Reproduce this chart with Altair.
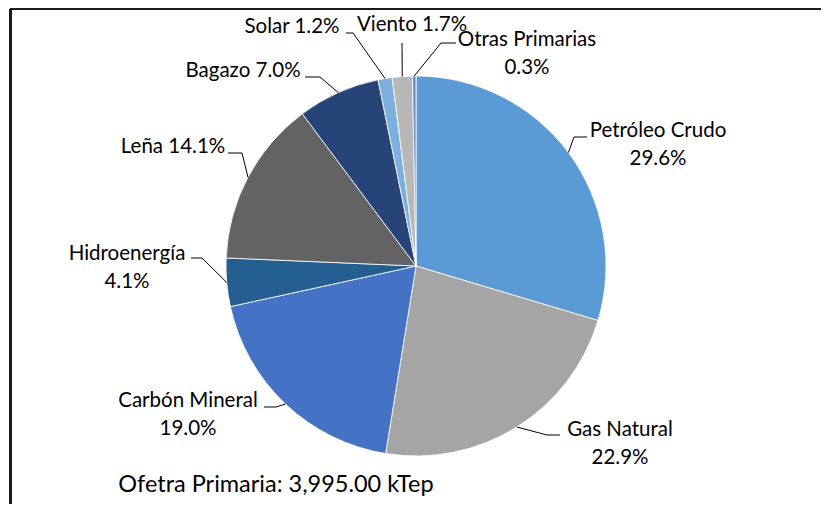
import math
import altair as alt
import pandas as pd

# ---------------- data ----------------
categories = ["Petróleo Crudo", "Gas Natural", "Carbón Mineral", "Hidroenergía",
              "Leña", "Bagazo", "Solar", "Viento", "Otras Primarias"]
values = [29.6, 22.9, 19.0, 4.1, 14.1, 7.0, 1.2, 1.7, 0.3]
colors = ["#5B9BD5", "#A5A5A5", "#4472C4", "#255E91", "#636363",
          "#264478", "#7CAFDD", "#B7B7B7", "#698ED0"]
footer = "Ofetra Primaria: 3,995.00 kTep"

# ---------------- layout (page pixels) ----------------
OFF = 8                      # page margin
W, H = 813, 496              # canvas
CX, CY, R = 416 - OFF, 266 - OFF, 190
FONT = "Lato"
FS = 20.5
FS_FOOT = 23.5

# label placement: two-line (name / pct) or one-line ("name pct");
# centre of first line, leader elbow and tail end
LAYOUT = {
    "Petróleo Crudo": dict(two=True, x=658, y=131, elbow=(574, 137), tail=(587, 137)),
    "Gas Natural":    dict(two=True, x=620, y=430, elbow=(547, 435), tail=(560, 435)),
    "Carbón Mineral": dict(two=True, x=188, y=401, elbow=(276, 407), tail=(264, 407)),
    "Hidroenergía":   dict(two=True, x=127, y=254, elbow=(202, 258), tail=(191, 258)),
    "Leña":           dict(two=False, x=173, y=147, elbow=(242, 153), tail=(228, 153)),
    "Bagazo":         dict(two=False, x=243, y=71, elbow=(320, 77), tail=(305, 77)),
    "Solar":          dict(two=False, x=292, y=27, elbow=(353, 33), tail=(346, 33)),
    "Viento":         dict(two=False, x=412, y=25, elbow=(402, 43), tail=(402, 43)),
    "Otras Primarias": dict(two=True, x=527, y=40, elbow=(441, 43), tail=(456, 43)),
}
LINE_GAP = 28

# ---------------- tables ----------------
pie = pd.DataFrame({"cat": categories, "value": values, "idx": range(len(values))})

total = sum(values)
text_rows, lead_rows = [], []
cum = 0.0
for cat, v in zip(categories, values):
    mid = (cum + v / 2) / total * 2 * math.pi
    cum += v
    ex, ey = CX + R * math.sin(mid), CY - R * math.cos(mid)
    L = LAYOUT[cat]
    pct = f"{v:.1f}%"
    if L["two"]:
        text_rows.append(dict(t=cat, x=L["x"] - OFF, y=L["y"] - OFF))
        text_rows.append(dict(t=pct, x=L["x"] - OFF, y=L["y"] - OFF + LINE_GAP))
    else:
        text_rows.append(dict(t=f"{cat} {pct}", x=L["x"] - OFF, y=L["y"] - OFF))
    pts = [(ex, ey), (L["elbow"][0] - OFF, L["elbow"][1] - OFF),
           (L["tail"][0] - OFF, L["tail"][1] - OFF)]
    for k, (px, py) in enumerate(pts):
        lead_rows.append(dict(cat=cat, k=k, x=px, y=py))

texts = pd.DataFrame(text_rows)
leads = pd.DataFrame(lead_rows)
foot = pd.DataFrame([dict(t=footer, x=276 - OFF, y=485 - OFF)])

xs = alt.Scale(domain=[0, W], range=[0, W])
ys = alt.Scale(domain=[0, H], range=[0, H])

arc = alt.Chart(pie).mark_arc(radius=R, stroke="white", strokeWidth=0.8).encode(
    theta=alt.Theta("value:Q", stack=True),
    color=alt.Color("cat:N", scale=alt.Scale(domain=categories, range=colors), legend=None),
    order=alt.Order("idx:Q"),
    x=alt.value(CX),
    y=alt.value(CY),
)

lines = alt.Chart(leads).mark_line(color="black", strokeWidth=1).encode(
    x=alt.X("x:Q", scale=xs, axis=None),
    y=alt.Y("y:Q", scale=ys, axis=None),
    detail="cat:N",
    order="k:Q",
)

labels = alt.Chart(texts).mark_text(font=FONT, fontSize=FS, color="black",
                                    align="center", baseline="middle").encode(
    x=alt.X("x:Q", scale=xs, axis=None),
    y=alt.Y("y:Q", scale=ys, axis=None),
    text="t:N",
)

footer_txt = alt.Chart(foot).mark_text(font=FONT, fontSize=FS_FOOT, color="black",
                                       align="center", baseline="middle").encode(
    x=alt.X("x:Q", scale=xs, axis=None),
    y=alt.Y("y:Q", scale=ys, axis=None),
    text="t:N",
)

frame_top = alt.Chart(pie).mark_rule(color="#1a1a1a", strokeWidth=2).encode(
    x=alt.value(2.5), x2=alt.value(W), y=alt.value(1))
frame_left = alt.Chart(pie).mark_rule(color="#1a1a1a", strokeWidth=2).encode(
    x=alt.value(2.5), y=alt.value(1), y2=alt.value(H))

chart = alt.layer(arc, lines, labels, footer_txt, frame_top, frame_left).properties(
    width=W, height=H, padding=0, autosize=alt.AutoSizeParams(type="none"),
    background="white",
).configure_view(stroke=None)

chart.save("out.html", embed_options={"renderer": "svg", "actions": False})
